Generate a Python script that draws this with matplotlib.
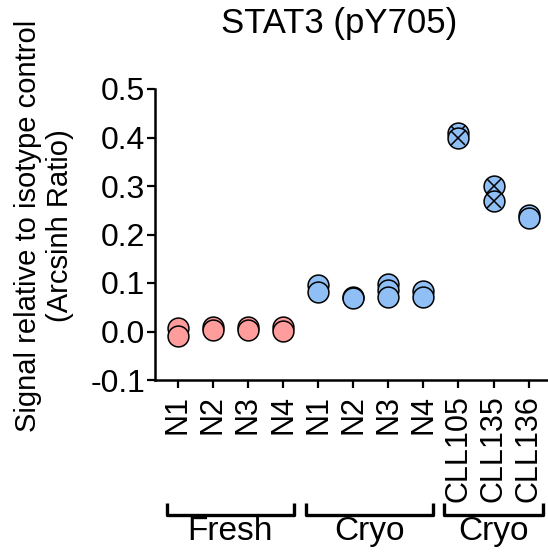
import numpy as np
import matplotlib
matplotlib.use("Agg")
import matplotlib.pyplot as plt
import matplotlib.transforms as mtransforms

plt.rcParams["font.family"] = ["Liberation Sans", "DejaVu Sans"]
plt.rcParams["axes.unicode_minus"] = False

# ---- Data
labels = ["N1", "N2", "N3", "N4", "N1", "N2", "N3", "N4", "CLL105", "CLL135", "CLL136"]
fresh_vals = [[0.008, -0.010], [0.010, 0.003], [0.010, 0.003], [0.010, 0.002]]
cryo_vals = [[0.095, 0.081], [0.071, 0.069], [0.097, 0.086, 0.071], [0.083, 0.072]]
cll_vals = [[0.410, 0.400], [0.300, 0.270], [0.241, 0.233]]
cll_crossed = [True, True, False]
groups = ["Fresh", "Cryo", "Cryo"]
group_span = [(-0.31, 3.31), (3.65, 7.27), (7.59, 10.40)]

pink = "#FF9D9D"
blue = "#8FBFF5"

fig = plt.figure(figsize=(5.48, 5.52), dpi=100)
ax = fig.add_axes([155 / 548, 1 - 380 / 552, 393 / 548, 291 / 552])

ms = 15
mew = 1.1

def draw(x, vals, color, crossed=False):
    for v in sorted(vals, reverse=True):
        ax.plot(x, v, "o", ms=ms, mfc=color, mec="black", mew=mew, clip_on=False, zorder=3)
        if crossed:
            ax.plot(x, v, "x", ms=ms * 0.707, mec="black", mew=mew, clip_on=False, zorder=3)

for i, vals in enumerate(fresh_vals):
    draw(i, vals, pink)
for i, vals in enumerate(cryo_vals):
    draw(4 + i, vals, blue)
for i, vals in enumerate(cll_vals):
    draw(8 + i, vals, blue, cll_crossed[i])

ax.set_xlim(-0.647, 10.55)
ax.set_ylim(-0.1, 0.5)
ax.set_yticks(np.arange(-0.1, 0.51, 0.1))
ax.set_yticklabels(["%.1f" % t for t in np.arange(-0.1, 0.51, 0.1)])
ax.set_xticks(range(len(labels)))
ax.set_xticklabels(labels, rotation=90, va="top", ha="center")

for s in ["top", "right"]:
    ax.spines[s].set_visible(False)
for s in ["left", "bottom"]:
    ax.spines[s].set_linewidth(1.8)
ax.tick_params(axis="both", width=1.6, length=6, colors="black")
ax.tick_params(axis="x", labelsize=22, pad=5)
ax.tick_params(axis="y", labelsize=23, pad=1)

ax.set_title("STAT3 (pY705)", fontsize=25, pad=40, x=0.468)
fig.text(44 / 548, 1 - 226 / 552, "Signal relative to isotype control\n(Arcsinh Ratio)",
         rotation=90, ha="center", va="center", fontsize=21, linespacing=1.15)

# ---- Group brackets under the tick labels
trans = mtransforms.blended_transform_factory(ax.transData, ax.transAxes)
for name, (x0, x1) in zip(groups, group_span):
    ax.plot([x0, x0, x1, x1], [-0.423, -0.464, -0.464, -0.423], color="black",
            lw=2.4, transform=trans, clip_on=False, solid_capstyle="butt")
    ax.text((x0 + x1) / 2, -0.52, name, ha="center", va="center", fontsize=24,
            transform=trans)

plt.savefig("out.png", dpi=100)
